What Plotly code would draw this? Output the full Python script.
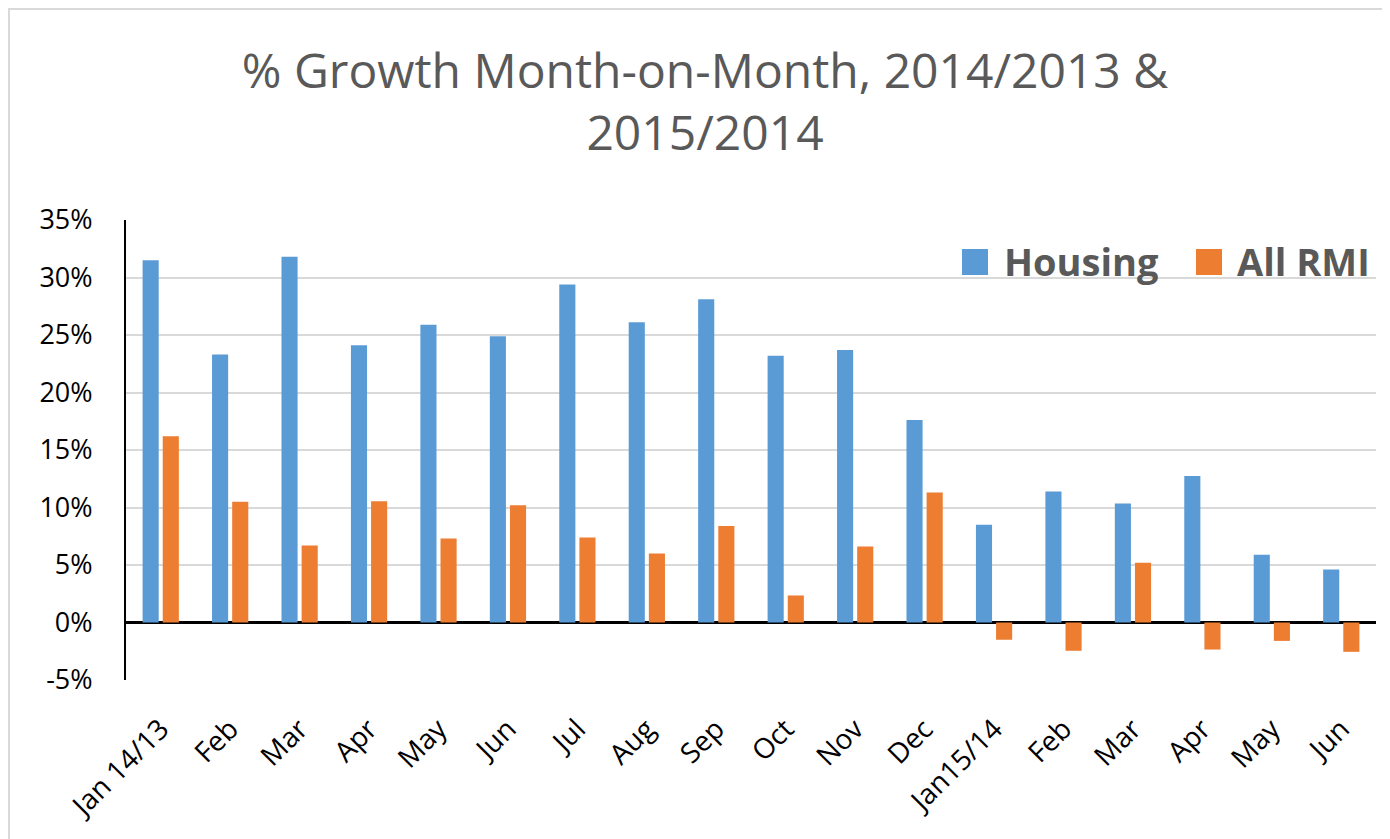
import plotly.graph_objects as go

months = ["Jan 14/13", "Feb", "Mar", "Apr", "May", "Jun", "Jul", "Aug", "Sep",
          "Oct", "Nov", "Dec", "Jan15/14", "Feb", "Mar", "Apr", "May", "Jun"]
housing = [31.5, 23.3, 31.8, 24.1, 25.9, 24.9, 29.4, 26.1, 28.1,
           23.2, 23.7, 17.6, 8.5, 11.4, 10.35, 12.75, 5.9, 4.6]
all_rmi = [16.2, 10.5, 6.7, 10.55, 7.3, 10.2, 7.4, 6.0, 8.4,
           2.35, 6.6, 11.3, -1.5, -2.46, 5.2, -2.35, -1.6, -2.55]
y_ticks = [-5, 0, 5, 10, 15, 20, 25, 30, 35]

BLUE = "#5B9BD5"
ORANGE = "#ED7D31"
GREY_TXT = "#595959"
GRID = "#D9D9D9"

# the page body adds an 8px margin, so the figure is a bit smaller than the window
OFF = 8
W, H = 1390 - OFF, 839 - OFF
L, R, T, B = 126 - OFF, 1376 - OFF, 220 - OFF, 680 - OFF  # plot area, figure pixels


def px(x):
    # page pixel -> paper x
    return (x - OFF - L) / (R - L)


def py(y):
    return (B - (y - OFF)) / (B - T)


idx = list(range(len(months)))

fig = go.Figure()
fig.add_trace(go.Bar(x=idx, y=housing, name="Housing", marker=dict(color=BLUE, line=dict(width=0)),
                     showlegend=False))
fig.add_trace(go.Bar(x=idx, y=all_rmi, name="All RMI", marker=dict(color=ORANGE, line=dict(width=0)),
                     showlegend=False))

# grey border of the chart area
fig.add_shape(type="rect", xref="paper", yref="paper", layer="below",
              x0=px(OFF + 1), x1=px(1400), y0=py(850), y1=py(OFF + 1),
              fillcolor="white", line=dict(color=GRID, width=2))

# legend drawn by hand so the swatches can be large like the original
for name, color, sx, tx in [("Housing", BLUE, 962, 1002), ("All RMI", ORANGE, 1196, 1235)]:
    fig.add_shape(type="rect", xref="paper", yref="paper",
                  x0=px(sx), x1=px(sx + 26), y0=py(275), y1=py(249),
                  fillcolor=color, line=dict(width=0))
    fig.add_annotation(x=px(tx), y=py(261), xref="paper", yref="paper",
                       xanchor="left", yanchor="middle", showarrow=False,
                       text="<b>" + name + "</b>",
                       font=dict(family="Open Sans", size=38, color=GREY_TXT))

fig.update_layout(
    width=W, height=H,
    title=dict(text="% Growth Month-on-Month, 2014/2013 &<br>2015/2014",
               x=(705 - OFF) / W, xref="container", xanchor="center",
               y=1 - 80 / H, yref="container", yanchor="top",
               font=dict(family="Open Sans", size=48, color=GREY_TXT)),
    barmode="group", bargap=0.42, bargroupgap=0.2,
    margin=dict(l=L, r=W - R, t=T, b=H - B, autoexpand=False),
    paper_bgcolor="white", plot_bgcolor="white",
    font=dict(family="Open Sans", color="black"),
)
fig.update_xaxes(
    range=[-0.5, len(months) - 0.5],
    tickmode="array", tickvals=idx, ticktext=months,
    tickangle=-45, tickfont=dict(size=28, color="black"),
    showgrid=False, showline=False, ticks="", ticklabelstandoff=26,
)
fig.update_yaxes(
    range=[-5, 35], tickmode="array", tickvals=y_ticks,
    ticktext=[f"{v}%" for v in y_ticks],
    tickfont=dict(size=27, color="black"),
    showgrid=True, gridcolor=GRID, gridwidth=2,
    zeroline=True, zerolinecolor="black", zerolinewidth=3,
    showline=True, linecolor="black", linewidth=2,
    ticks="", ticklabelstandoff=26,
)

fig.write_html("out.html")
